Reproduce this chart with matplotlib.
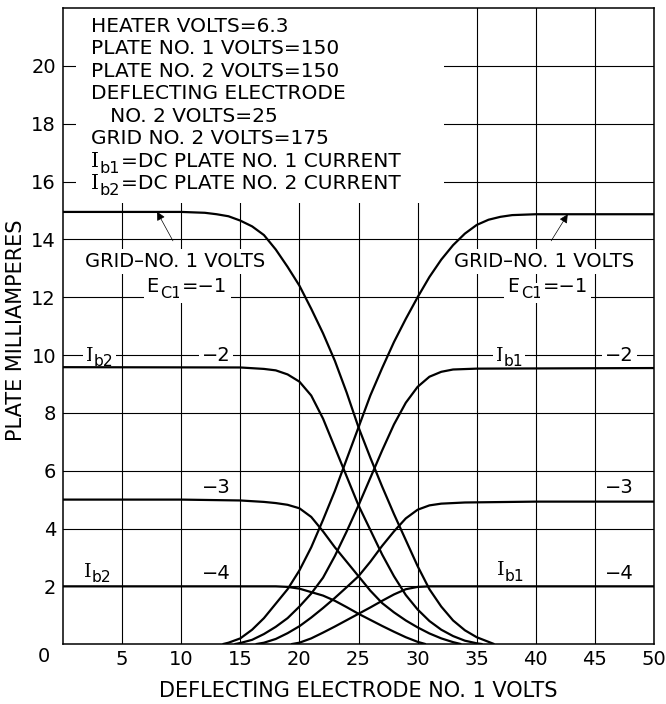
import matplotlib
matplotlib.use("Agg")
import matplotlib.pyplot as plt
from matplotlib.patches import Rectangle

plt.rcParams['font.family'] = ['DejaVu Sans']

# deflecting electrode no.1 volts / plate milliamperes
# Ib1 (plate no.1, rising)
ib1_m1_x = [13.5, 14, 15, 16, 17, 18, 19, 20, 21, 22, 23, 24, 25, 26, 27, 28, 29, 30, 31, 32, 33, 34, 35, 36, 37, 38, 40, 50]
ib1_m1_y = [0, 0.05, 0.2, 0.5, 0.9, 1.4, 1.9, 2.55, 3.35, 4.3, 5.3, 6.4, 7.5, 8.6, 9.55, 10.45, 11.25, 12.0, 12.7, 13.3, 13.8, 14.2, 14.5, 14.68, 14.78, 14.84, 14.87, 14.87]
ib1_m2_x = [14.5, 15, 16, 17, 18, 19, 20, 21, 22, 23, 24, 25, 26, 27, 28, 29, 30, 31, 32, 33, 35, 50]
ib1_m2_y = [0, 0.04, 0.15, 0.35, 0.6, 0.9, 1.3, 1.75, 2.3, 3.05, 3.9, 4.8, 5.75, 6.7, 7.6, 8.35, 8.9, 9.25, 9.42, 9.5, 9.53, 9.55]
ib1_m3_x = [16.3, 17, 18, 19, 20, 21, 22, 23, 24, 25, 26, 27, 28, 29, 30, 31, 32, 34, 40, 50]
ib1_m3_y = [0, 0.05, 0.18, 0.38, 0.62, 0.92, 1.25, 1.6, 1.97, 2.35, 2.85, 3.4, 3.9, 4.35, 4.65, 4.8, 4.86, 4.9, 4.93, 4.93]
ib1_m4_x = [19.3, 20, 21, 22, 23, 24, 25, 26, 27, 28, 29, 30, 31, 50]
ib1_m4_y = [0, 0.05, 0.2, 0.4, 0.61, 0.83, 1.05, 1.27, 1.5, 1.72, 1.9, 1.98, 2.0, 2.0]

# Ib2 (plate no.2, falling)
ib2_m1_x = [0, 10, 12, 13, 14, 15, 16, 17, 18, 19, 20, 21, 22, 23, 24, 25, 26, 27, 28, 29, 30, 31, 32, 33, 34, 35, 36, 36.5]
ib2_m1_y = [14.95, 14.95, 14.92, 14.87, 14.8, 14.65, 14.45, 14.15, 13.65, 13.05, 12.4, 11.6, 10.75, 9.8, 8.7, 7.5, 6.45, 5.45, 4.5, 3.6, 2.7, 1.9, 1.3, 0.82, 0.48, 0.24, 0.08, 0]
ib2_m2_x = [0, 15, 17, 18, 19, 20, 21, 22, 23, 24, 25, 26, 27, 28, 29, 30, 31, 32, 33, 34, 35, 35.5]
ib2_m2_y = [9.58, 9.57, 9.52, 9.47, 9.33, 9.08, 8.6, 7.8, 6.8, 5.8, 4.8, 3.95, 3.1, 2.35, 1.7, 1.2, 0.8, 0.5, 0.28, 0.12, 0.03, 0]
ib2_m3_x = [0, 10, 15, 17, 18, 19, 20, 21, 22, 23, 24, 25, 26, 27, 28, 29, 30, 31, 32, 33, 33.7]
ib2_m3_y = [5.0, 5.0, 4.97, 4.92, 4.88, 4.82, 4.7, 4.4, 3.9, 3.35, 2.85, 2.35, 1.85, 1.42, 1.1, 0.82, 0.58, 0.37, 0.2, 0.07, 0]
ib2_m4_x = [0, 18, 19, 20, 21, 22, 23, 24, 25, 26, 27, 28, 29, 30, 30.7]
ib2_m4_y = [2.0, 2.0, 1.98, 1.92, 1.8, 1.68, 1.5, 1.28, 1.05, 0.84, 0.63, 0.43, 0.24, 0.08, 0]

x_ticks = [5, 10, 15, 20, 25, 30, 35, 40, 45, 50]
y_ticks = [2, 4, 6, 8, 10, 12, 14, 16, 18, 20]

header_lines = [
    "HEATER VOLTS=6.3",
    "PLATE NO. 1 VOLTS=150",
    "PLATE NO. 2 VOLTS=150",
    "DEFLECTING ELECTRODE",
    "   NO. 2 VOLTS=25",
    "GRID NO. 2 VOLTS=175",
]
current_lines = [("b1", "=DC PLATE NO. 1 CURRENT"), ("b2", "=DC PLATE NO. 2 CURRENT")]

fig = plt.figure(figsize=(6.66, 7.04), dpi=100)
ax = fig.add_axes([0.0946, 0.085, 0.8874, 0.9035])

wb = dict(boxstyle='square,pad=0.15', facecolor='white', edgecolor='none')
LZ = 1.8  # boxed labels: over the grid, under the curves


def ib_label(x, y, sub, rest="", size=14, box=False, z=3):
    # serif I with a large dropped subscript, as on the original lettering
    kw = dict(va='baseline', ha='left', zorder=z)
    if box:
        kw['bbox'] = wb
    ax.text(x, y, "I", family='DejaVu Serif', fontsize=size, **kw)
    ax.annotate(sub, (x, y), xytext=(size * 0.4, -size * 0.3), textcoords='offset points',
                fontsize=size * 0.8, **kw)
    if rest:
        ax.annotate(rest, (x, y), xytext=(size * 1.45, 0), textcoords='offset points',
                    fontsize=size, **kw)


curves = [(ib1_m1_x, ib1_m1_y), (ib1_m2_x, ib1_m2_y), (ib1_m3_x, ib1_m3_y), (ib1_m4_x, ib1_m4_y),
          (ib2_m1_x, ib2_m1_y), (ib2_m2_x, ib2_m2_y), (ib2_m3_x, ib2_m3_y), (ib2_m4_x, ib2_m4_y)]
for cx, cy in curves:
    ax.plot(cx, cy, color='black', lw=1.6, solid_capstyle='butt', zorder=2)

ax.set_xlim(0, 50)
ax.set_ylim(0, 22)
ax.set_xticks(x_ticks)
ax.set_yticks(y_ticks)
ax.tick_params(length=0, labelsize=14)
ax.tick_params(axis='x', pad=4)
ax.tick_params(axis='y', pad=5)
ax.set_axisbelow(True)
ax.grid(True, color='black', lw=0.8)
for sp in ax.spines.values():
    sp.set_linewidth(1.1)
ax.text(-1.6, -0.43, "0", fontsize=14, ha='center', va='center', clip_on=False)

ax.set_xlabel("DEFLECTING ELECTRODE NO. 1 VOLTS", fontsize=15)
ax.set_ylabel("PLATE MILLIAMPERES", fontsize=15)
ax.xaxis.set_label_coords(0.5, -0.058)
ax.yaxis.set_label_coords(-0.062, 0.494)

# white panel behind the test conditions
ax.add_patch(Rectangle((1.1, 15.25), 31.1, 7, facecolor='white', edgecolor='none', zorder=1.5))
base = 21.19
for i, line in enumerate(header_lines):
    ax.text(2.4, base - 0.78 * i, line, fontsize=14.5, va='baseline', ha='left', zorder=3)
for j, (sub, rest) in enumerate(current_lines):
    ib_label(2.4, base - 0.78 * (6 + j), sub, rest, size=14.5)

# grid-no.1 volts notes with arrows
notes = [(9.5, 8.1, (7.95, 14.96), (9.3, 13.95)), (40.7, 38.6, (42.7, 14.87), (41.3, 13.95))]
for cx, ex, head, tail in notes:
    ax.text(cx, 13.05, "GRID\u2013NO. 1 VOLTS", fontsize=14, ha='center', va='baseline', bbox=wb, zorder=LZ)
    ax.text(ex, 12.17, "E", fontsize=14, ha='right', va='baseline', bbox=wb, zorder=LZ)
    ax.annotate("C1", (ex, 12.17), xytext=(1, -4), textcoords='offset points', fontsize=11.5,
                ha='left', va='baseline', bbox=wb, zorder=LZ)
    ax.annotate("=\u22121", (ex, 12.17), xytext=(17, 0), textcoords='offset points', fontsize=14,
                ha='left', va='baseline', bbox=wb, zorder=LZ)
    ax.annotate("", xy=head, xytext=tail,
                arrowprops=dict(arrowstyle='-|>', lw=0.5, color='black', mutation_scale=13, shrinkA=0, shrinkB=0),
                zorder=3)

# curve labels
ib_label(1.95, 9.81, "b2", box=True, z=LZ)
ib_label(36.6, 9.81, "b1", box=True, z=LZ)
ib_label(1.8, 2.34, "b2")
ib_label(36.7, 2.4, "b1")
for lx in [12.95, 47.1]:
    ax.text(lx, 9.81, "\u22122", fontsize=14, ha='center', va='baseline', bbox=wb, zorder=LZ)
    ax.text(lx, 5.22, "\u22123", fontsize=14, ha='center', va='baseline', zorder=3)
    ax.text(lx, 2.24, "\u22124", fontsize=14, ha='center', va='baseline', zorder=3)

fig.savefig("out.png", dpi=100)
